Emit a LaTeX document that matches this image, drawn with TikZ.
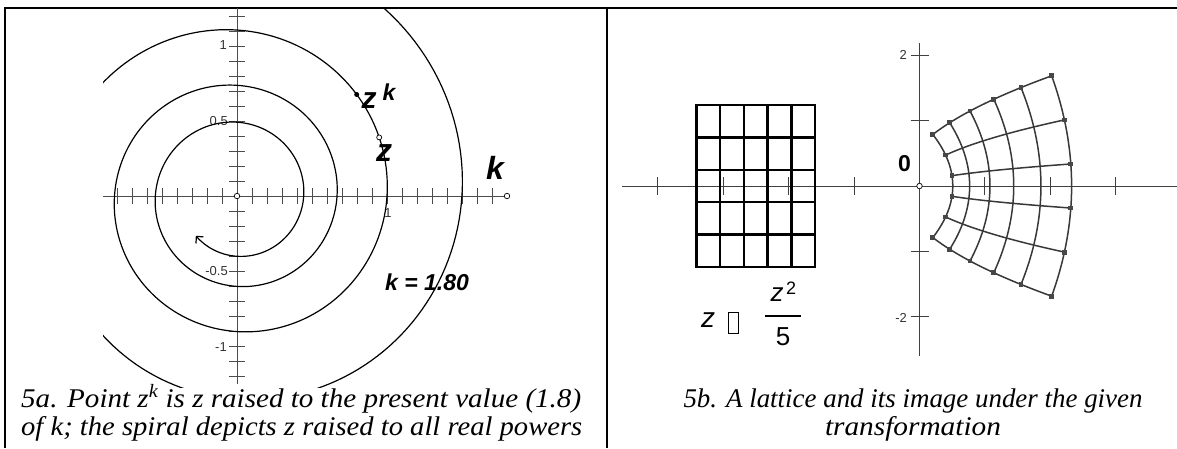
\documentclass[tikz,border=0pt]{standalone}
\usepackage{fontspec}
\usepackage{graphicx}
\newfontfamily\arial{Liberation Sans}
\newfontfamily\capfont{Liberation Serif}
\usetikzlibrary{arrows.meta}
\begin{document}
\begin{tikzpicture}[x=1pt,y=-1pt,
  frameline/.style={line width=2pt,black},
  axisL/.style={line width=0.9pt,draw=black!70},
  axisR/.style={line width=0.9pt,draw=black!75},
  ticklabel/.style={font=\arial\fontsize{13}{13}\selectfont,text=black!80,inner sep=0pt},
  boldlabel/.style={inner sep=0pt,text=black},
  spiral/.style={line width=1.2pt,black},
  hollow/.style={circle,draw=black,fill=white,line width=0.7pt,inner sep=0pt,minimum size=5.5pt},
  dotpt/.style={circle,fill=black,inner sep=0pt,minimum size=5pt},
  lattice/.style={line width=2.5pt,black},
  imageline/.style={line width=1.5pt,draw=black!78},
  marker/.style={fill=black!72},
  caption/.style={inner sep=0pt,font=\capfont\itshape\fontsize{27}{30}\selectfont}
]
\useasboundingbox (0,0) rectangle (1177,448);
% frame
\draw[frameline] (5,448) -- (5,7.7) -- (1177,7.7);
\draw[frameline] (606.5,7.7) -- (606.5,448);

% ---------- left panel ----------
\draw[axisL] (237,7.7) -- (237,384);
\draw[axisL] (103,196) -- (507,196);
\foreach \i in {-12,...,12} {\ifnum\i=0\else \draw[axisL] (229,{196-15*\i}) -- (245,{196-15*\i});\fi}
\foreach \i in {-8,...,17} {\ifnum\i=0\else \draw[axisL] ({237+15*\i},188) -- ({237+15*\i},204);\fi}
\node[ticklabel,anchor=east] (ly1) at (227,45) {1};
\node[ticklabel,anchor=east] (ly05) at (228,121) {0.5};
\node[ticklabel,anchor=east] (lym05) at (228,271) {-0.5};
\node[ticklabel,anchor=east] (lym1) at (227,347) {-1};
\node[ticklabel] (lx1) at (388,213) {1};

\begin{scope}
\clip (103,8.7) rectangle (600,387);
\draw[spiral,-{Straight Barb[length=5pt,width=10pt]}] plot[domain=420:-856,samples=600,variable=\t]
  ({237+150*exp(0.0645*rad(\t))*cos(\t)},{196-150*exp(0.0645*rad(\t))*sin(\t)});
\end{scope}

\node[hollow] (O1) at (237,196) {};
\node[hollow] (kpt) at (507,196) {};
\node[hollow,minimum size=5pt] (zpt) at (379.2,137.4) {};
\node[dotpt] (zkpt) at (356.7,94.5) {};

\node[boldlabel,anchor=base,font=\arial\bfseries\itshape\fontsize{30}{30}\selectfont] (zk) at (369,108.5) {z};
\node[boldlabel,anchor=base,font=\arial\bfseries\itshape\fontsize{23}{23}\selectfont] (zksup) at (389,100) {k};
\node[boldlabel,anchor=base,font=\arial\bfseries\itshape\fontsize{32}{32}\selectfont] (zlab) at (384,161.7) {z};
\node[boldlabel,anchor=base,font=\arial\bfseries\itshape\fontsize{32}{32}\selectfont] (klab) at (495,179.3) {k};
\node[boldlabel,anchor=base west,font=\arial\bfseries\itshape\fontsize{23}{23}\selectfont] (kval) at (385,290) {k = 1.80};

\node[caption,anchor=base west] (capA1) at (21,407) {\resizebox{560pt}{\height}{5a. Point z\textsuperscript{k} is z raised to the present value (1.8)}};
\node[caption,anchor=base west] (capA2) at (21,435) {\resizebox{561pt}{\height}{of k; the spiral depicts z raised to all real powers}};

% ---------- right panel ----------
\begin{scope}[shift={(919.5,186)},x=65.4pt,y=65.4pt]
  \draw[axisR] (-4.55,0) -- (3.95,0);
  \draw[axisR] (0,2.19) -- (0,-2.6);
  \foreach \i in {-4,-3,-2,-1,1,2,3} {\draw[axisR] (\i,0) ++(0,-9pt) -- ++(0,18pt);}
  \foreach \i in {-2,-1,1,2} {\draw[axisR] (0,\i) ++(-9pt,0) -- ++(18pt,0);}
  % lattice
  \foreach \i in {1,...,4} {
    \draw[lattice] ({-3.41+0.363*\i},-1.235) -- ({-3.41+0.363*\i},1.235);
    \draw[lattice] (-3.41,{-1.235+0.494*\i}) -- (-1.595,{-1.235+0.494*\i});
  }
  \draw[lattice] (-3.41,-1.235) rectangle (-1.595,1.235);
  % image under z^2/5
  \foreach \i in {0,...,5} {
    \pgfmathsetmacro\cc{1.595+0.363*\i}
    \draw[imageline] plot[domain=-1.235:1.235,samples=40,variable=\t] ({(\cc*\cc-\t*\t)/5},{2*\cc*\t/5});
    \pgfmathsetmacro\dd{-1.235+0.494*\i}
    \draw[imageline] plot[domain=1.595:3.41,samples=40,variable=\t] ({(\t*\t-\dd*\dd)/5},{2*\dd*\t/5});
  }
  \foreach \i in {0,...,5} {
    \pgfmathsetmacro\cc{1.595+0.363*\i}
    \pgfmathsetmacro\dd{-1.235+0.494*\i}
    \fill[marker] ({(\cc*\cc-1.235*1.235)/5},{2*\cc*1.235/5}) +(-2.4pt,-2.4pt) rectangle +(2.4pt,2.4pt);
    \fill[marker] ({(\cc*\cc-1.235*1.235)/5},{-2*\cc*1.235/5}) +(-2.4pt,-2.4pt) rectangle +(2.4pt,2.4pt);
    \fill[marker] ({(1.595*1.595-\dd*\dd)/5},{2*1.595*\dd/5}) +(-2.4pt,-2.4pt) rectangle +(2.4pt,2.4pt);
    \fill[marker] ({(3.41*3.41-\dd*\dd)/5},{2*3.41*\dd/5}) +(-2.4pt,-2.4pt) rectangle +(2.4pt,2.4pt);
  }
  \node[hollow] (O2) at (0,0) {};
\end{scope}

\node[ticklabel,anchor=east] (ry2) at (907,55) {2};
\node[ticklabel,anchor=east] (rym2) at (907,318) {-2};
\node[boldlabel,font=\arial\bfseries\fontsize{23}{23}\selectfont] (r0) at (904.5,164) {0};

% formula z -> z^2/5
\node[boldlabel,anchor=base,font=\arial\itshape\fontsize{28}{28}\selectfont] (fz) at (708,327) {z};
\node[draw=black,line width=0.6pt,inner sep=0pt,minimum width=10pt,minimum height=21pt] (fbox) at (733.5,322.5) {};
\node[boldlabel,anchor=base,font=\arial\itshape\fontsize{26}{26}\selectfont] (fnum) at (777,301.7) {z};
\node[boldlabel,anchor=base,font=\arial\fontsize{18}{18}\selectfont] (fsup) at (791,294) {2};
\coordinate (barL) at (765,316);
\coordinate (barR) at (800.5,316);
\draw[line width=1.8pt] (barL) -- (barR);
\node[boldlabel,anchor=base,font=\arial\fontsize{26}{26}\selectfont] (fden) at (783,345) {5};

\node[caption,anchor=base] (capB1) at (913,407) {\resizebox{459pt}{\height}{5b. A lattice and its image under the given}};
\node[caption,anchor=base] (capB2) at (913,435) {\resizebox{176pt}{\height}{transformation}};
\end{tikzpicture}
\end{document}
